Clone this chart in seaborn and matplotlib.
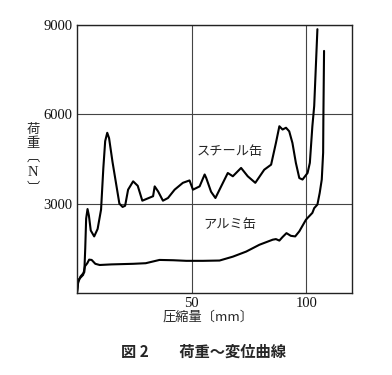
import numpy as np
import pandas as pd
import matplotlib
matplotlib.use("Agg")
import matplotlib.pyplot as plt
import seaborn as sns

# load-displacement readings (mm, N)
steel_x = [0, 0.5, 1.5, 3.2, 3.6, 4.0, 4.6, 5.2, 6.0, 7.5, 9.0, 10.5, 11.5, 12.3, 13.2,
           14.0, 15.5, 17.0, 18.5, 19.9, 21.0, 22.3, 24.5, 26.5, 28.5, 31.0, 33.2, 33.9,
           35.4, 37.5, 39.7, 42.6, 46.2, 49.1, 50.6, 53.5, 55.7, 56.4, 58.5, 60.4, 62.9,
           65.8, 68.0, 71.6, 74.5, 77.8, 81.7, 84.7, 86.8, 88.3, 89.7, 91.2, 92.6, 94.0,
           95.5, 97.0, 98.4, 100.6, 101.6, 102.7, 103.5, 104.9]
steel_y = [0, 350, 550, 700, 1500, 2500, 2820, 2600, 2100, 1900, 2150, 2800, 4200, 5100, 5380,
           5200, 4400, 3700, 3000, 2890, 2930, 3470, 3750, 3600, 3100, 3180, 3250, 3580,
           3410, 3100, 3190, 3470, 3700, 3780, 3470, 3580, 3980, 3860, 3400, 3190, 3580,
           4030, 3920, 4200, 3920, 3700, 4140, 4310, 5040, 5600, 5490, 5550, 5430, 5040,
           4370, 3860, 3810, 4030, 4370, 5600, 6280, 8860]

alum_x = [0, 0.6, 2.7, 3.5, 4.5, 5.3, 6.4, 8.0, 9.9, 15.0, 24.5, 30.0, 36.0, 42.0, 47.7,
          55.0, 62.2, 68.0, 73.8, 79.6, 85.4, 86.8, 88.3, 89.7, 91.4, 93.3, 95.2, 97.0,
          99.9, 100.6, 102.7, 103.5, 104.9, 105.9, 106.8, 107.1, 107.4, 107.5, 107.8]
alum_y = [0, 440, 610, 900, 1000, 1120, 1110, 980, 940, 960, 980, 1000, 1110, 1100, 1080,
          1080, 1090, 1220, 1390, 1620, 1790, 1810, 1760, 1880, 2010, 1920, 1900, 2070,
          2460, 2520, 2690, 2850, 2970, 3360, 3810, 4260, 4710, 5830, 8130]

x_ticks = [50, 100]
y_ticks = [3000, 6000, 9000]

steel = pd.DataFrame({"x": steel_x, "y": steel_y})
alum = pd.DataFrame({"x": alum_x, "y": alum_y})

sns.set_theme(style="white")
plt.rcParams["font.family"] = ["Liberation Serif", "Noto Sans CJK JP"]

fig = plt.figure(figsize=(3.92, 3.75), dpi=100)
ax = fig.add_axes([0.1964, 0.2187, 0.7016, 0.7146])

sns.lineplot(data=steel, x="x", y="y", sort=False, estimator=None, color="black", lw=1.5, ax=ax)
sns.lineplot(data=alum, x="x", y="y", sort=False, estimator=None, color="black", lw=1.5, ax=ax)

serif = ["Liberation Serif", "DejaVu Serif"]
ax.set_xlim(0, 120)
ax.set_ylim(0, 9000)
ax.set_xticks(x_ticks)
ax.set_yticks(y_ticks)
ax.set_xticklabels([str(t) for t in x_ticks], family=serif, fontsize=10.5)
ax.set_yticklabels([str(t) for t in y_ticks], family=serif, fontsize=10.5)
ax.tick_params(length=0, pad=3, labelcolor="#111111")
ax.grid(True, color="#444444", lw=0.8)
for s in ax.spines.values():
    s.set_color("#222222")
    s.set_linewidth(1.0)
ax.set_xlabel("")
ax.set_ylabel("")

jp = ["Noto Sans CJK JP", "DejaVu Sans"]
ax.text(66.5, 4750, "スチール缶", family=jp, fontsize=9.5, ha="center", va="center")
ax.text(66.5, 2290, "アルミ缶", family=jp, fontsize=9.5, ha="center", va="center")

fig.text(208 / 392, 1 - 317 / 375, "圧縮量〔mm〕", family=jp, fontsize=9.5, ha="center", va="center")
# vertical y label, one glyph at a time (vertical bracket forms)
for ch, py in [("荷", 129), ("重", 144), ("︹", 157), ("N", 172), ("︺", 189)]:
    fig.text(33 / 392, 1 - py / 375, ch, family=jp if ch != "N" else serif,
             fontsize=9.5 if ch != "N" else 10.5, ha="center", va="center")
fig.text(203 / 392, 1 - 352 / 375, "図 2　　荷重～変位曲線", family=jp, fontsize=11,
         fontweight="bold", ha="center", va="center")

fig.savefig("out.png", dpi=100)
